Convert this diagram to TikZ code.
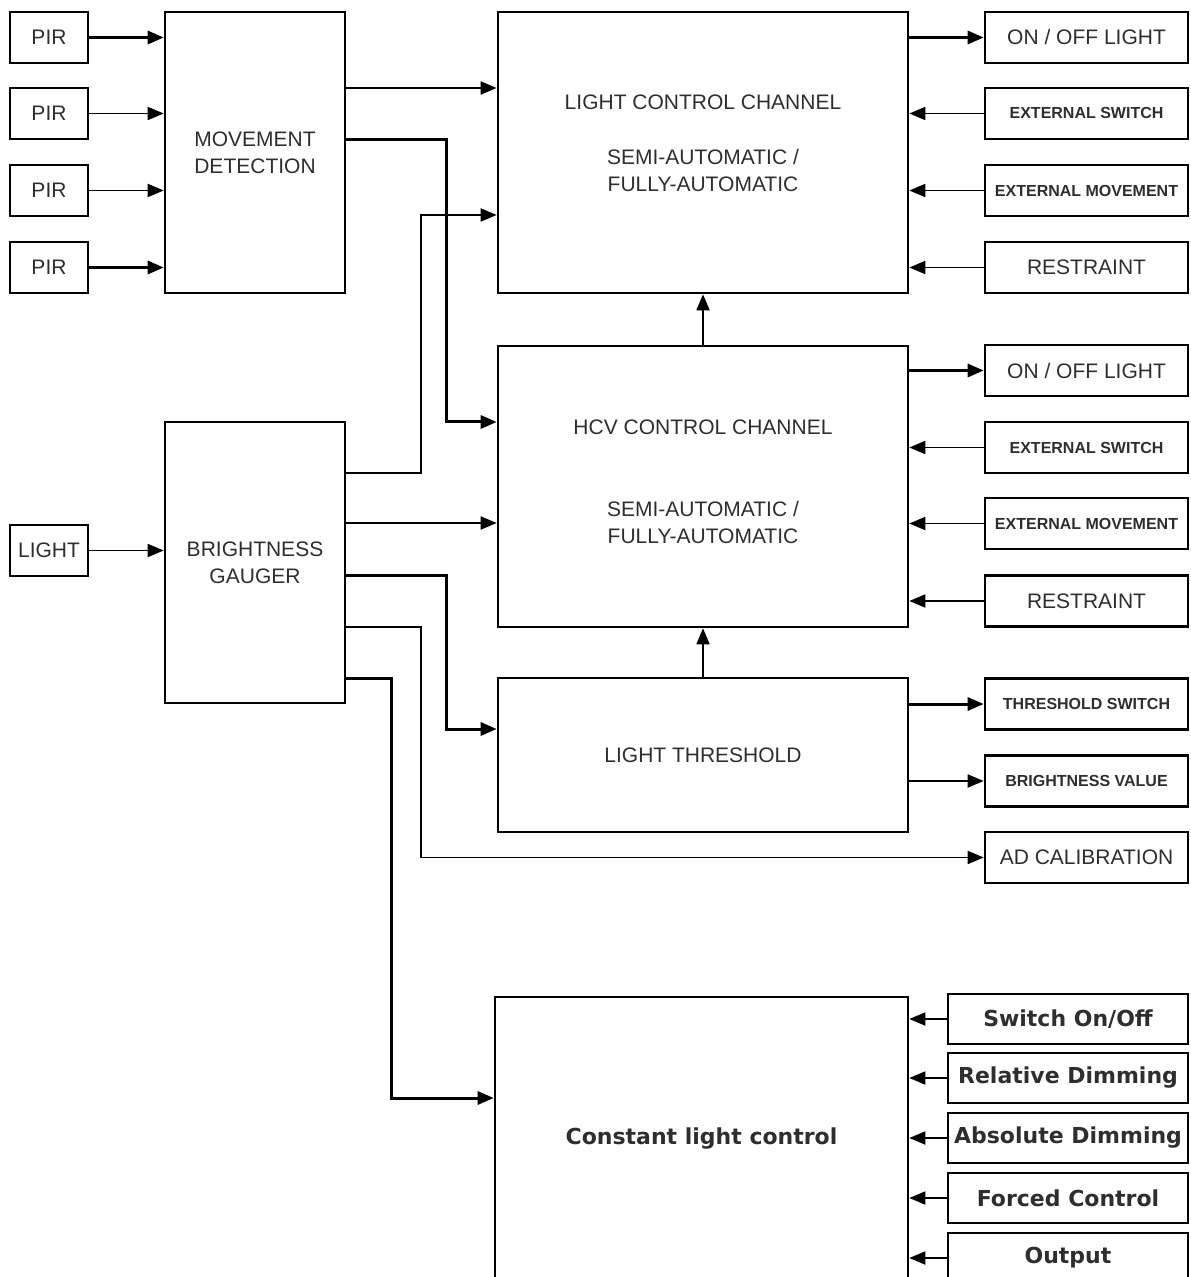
\documentclass[tikz,border=0pt]{standalone}
\usepackage{fontspec}
\setmainfont{Liberation Sans}
\newfontfamily\clcfont{DejaVu Sans}
\usetikzlibrary{arrows.meta}

\begin{document}
\begin{tikzpicture}[x=0.5pt, y=-0.5pt,
    blk/.style={draw, line width=1.3pt, inner sep=0pt, align=center, text=black!82,
      font=\fontsize{10.5}{13.5}\selectfont},
    pir/.style={blk, minimum width=39pt, minimum height=25.5pt},
    unit/.style={blk, minimum width=90pt, minimum height=140.5pt},
    chan/.style={blk, minimum width=205pt, minimum height=140.5pt},
    port/.style={blk, minimum width=101.5pt, minimum height=25.5pt},
    tport/.style={port, font=\fontsize{8}{9}\selectfont\bfseries},
    cport/.style={blk, minimum width=120pt, minimum height=25pt,
      font=\clcfont\fontsize{11}{13}\selectfont\bfseries},
    wire/.style={line width=0.9pt, -{Triangle[length=8pt,width=6.5pt]}},
    bus/.style={wire, line width=1.5pt}]
  \useasboundingbox (0,0) rectangle (1190,1277);

  \node[pir] (pir1) at (49,37.5) {PIR};
  \node[pir] (pir2) at (49,113.5) {PIR};
  \node[pir] (pir3) at (49,190.5) {PIR};
  \node[pir] (pir4) at (49,267.5) {PIR};
  \node[pir] (light) at (49,550.5) {LIGHT};

  \node[unit] (md) at (255,152.5) {MOVEMENT\\DETECTION};
  \node[unit] (bg) at (255,562.5) {BRIGHTNESS\\GAUGER};

  \node[chan, text depth=9pt] (lcc) at (703,152.5) {LIGHT CONTROL CHANNEL\\[14pt]SEMI-AUTOMATIC /\\FULLY-AUTOMATIC};
  \node[chan, text depth=5pt] (hcv) at (703,486.5) {HCV CONTROL CHANNEL\\[27.5pt]SEMI-AUTOMATIC /\\FULLY-AUTOMATIC};
  \node[chan, minimum height=77pt] (lt) at (703,755) {LIGHT THRESHOLD};
  \node[blk, minimum width=206.5pt, minimum height=141.5pt,
    font=\clcfont\fontsize{11}{13}\selectfont\bfseries] (clc) at (701.5,1138.5) {Constant light control};

  \node[port] (onoff1) at (1086.5,37.5) {ON / OFF LIGHT};
  \node[tport] (exsw1) at (1086.5,113.5) {EXTERNAL SWITCH};
  \node[tport] (exmv1) at (1086.5,190.5) {EXTERNAL MOVEMENT};
  \node[port] (rest1) at (1086.5,267.5) {RESTRAINT};
  \node[port] (onoff2) at (1086.5,370.5) {ON / OFF LIGHT};
  \node[tport] (exsw2) at (1086.5,447.5) {EXTERNAL SWITCH};
  \node[tport] (exmv2) at (1086.5,523.5) {EXTERNAL MOVEMENT};
  \node[port] (rest2) at (1086.5,601) {RESTRAINT};
  \node[tport] (thsw) at (1086.5,704) {THRESHOLD SWITCH};
  \node[tport] (brval) at (1086.5,781) {BRIGHTNESS VALUE};
  \node[port] (adcal) at (1086.5,857.5) {AD CALIBRATION};

  \node[cport] (swon) at (1068,1019) {Switch On/Off};
  \node[cport] (reldim) at (1068,1078) {Relative Dimming};
  \node[cport] (absdim) at (1068,1138) {Absolute Dimming};
  \node[cport] (forced) at (1068,1198) {Forced Control};
  \node[cport] (output) at (1068,1258) {Output};

  % sensors
  \draw[bus] (pir1) -- (md.west |- pir1);
  \draw[wire] (pir2) -- (md.west |- pir2);
  \draw[wire] (pir3) -- (md.west |- pir3);
  \draw[bus] (pir4) -- (md.west |- pir4);
  \draw[wire] (light) -- (bg.west |- light);

  \draw[wire] (md.east |- 0,88) -- (lcc.west |- 0,88);
  \draw[bus] (md.east |- 0,140) -| (446,422) -- (hcv.west |- 0,422);
  \draw[wire] (bg.east |- 0,473) -| (421,215) -- (lcc.west |- 0,215);
  \draw[wire] (bg.east |- 0,523) -- (hcv.west |- 0,523);
  \draw[bus] (bg.east |- 0,575) -| (446,729) -- (lt.west |- 0,729);
  \draw[wire] (bg.east |- 0,627) -| (421,857.5) -- (adcal.west);
  \draw[bus] (bg.east |- 0,678) -| (391,1098) -- (clc.west |- 0,1098);

  \draw[wire] (hcv) -- (lcc);
  \draw[wire] (lt) -- (hcv);

  % channel ports
  \draw[bus] (lcc.east |- onoff1) -- (onoff1);
  \draw[wire] (exsw1) -- (lcc.east |- exsw1);
  \draw[wire] (exmv1) -- (lcc.east |- exmv1);
  \draw[wire] (rest1) -- (lcc.east |- rest1);
  \draw[bus] (hcv.east |- onoff2) -- (onoff2);
  \draw[wire] (exsw2) -- (hcv.east |- exsw2);
  \draw[wire] (exmv2) -- (hcv.east |- exmv2);
  \draw[wire] (rest2) -- (hcv.east |- rest2);
  \draw[bus] (lt.east |- thsw) -- (thsw);
  \draw[wire] (lt.east |- brval) -- (brval);
  \foreach \p in {swon,reldim,absdim,forced,output}
    \draw[wire] (\p) -- (clc.east |- \p);
\end{tikzpicture}
\end{document}
